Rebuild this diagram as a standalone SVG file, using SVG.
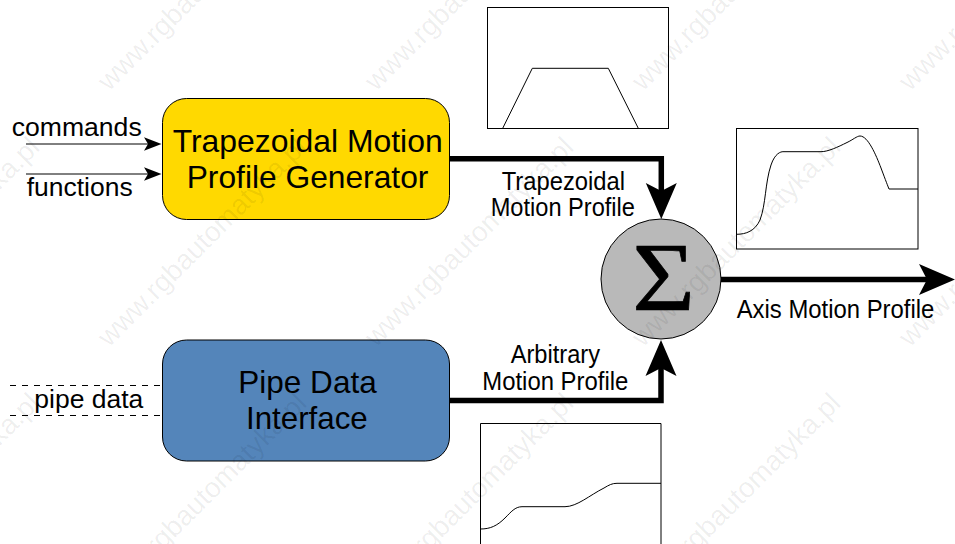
<svg xmlns="http://www.w3.org/2000/svg" width="955" height="544" viewBox="0 0 955 544">
<style>
text{font-family:"Liberation Sans",Arial,sans-serif;fill:#000}
.lbl{font-size:26px}
.big{font-size:31.5px}
.box{stroke:#000;stroke-width:1}
.plot{fill:none;stroke:#000;stroke-width:1}
.thick{fill:none;stroke:#000;stroke-width:5.5}
.thin{fill:none;stroke:#000;stroke-width:1}
.dash{fill:none;stroke:#000;stroke-width:1;stroke-dasharray:6 6}
.wm{font-size:28px;fill:#000;fill-opacity:.07}
</style>
<defs>
<marker id="bigHead" markerUnits="userSpaceOnUse" viewBox="0 -16 36 32" refX="8" refY="0" markerWidth="36" markerHeight="32" orient="auto"><path d="M0,-15.5L36,0L0,15.5L8,0Z" fill="#000"/></marker>
<marker id="thinHead" markerUnits="userSpaceOnUse" viewBox="0 -7 18 14" refX="4" refY="0" markerWidth="18" markerHeight="14" orient="auto"><path d="M0,-6.7L17.5,0L0,6.7L4,0Z" fill="#000"/></marker>
</defs>
<g id="plot-trapezoidal">
<rect class="plot" x="487.5" y="7.5" width="181" height="121" fill="none"/>
<path class="plot" d="M502.7,128.3L532.3,68.3H608.3L638.3,128.3"/>
</g>
<g id="plot-axis">
<rect class="plot" x="736.5" y="128.5" width="181.5" height="120.5"/>
<path class="plot" d="M736.5,234.3C746,234.3 755,231 760,220C766,204 765,183 771,165C775,153 781,151.7 783,151.7H821C828,151.7 838,147 847,142.5C853,139.7 857,136 860,136C868,136 876,155 881,168C884,176 887,184 889,189H918"/>
</g>
<g id="plot-arbitrary">
<path class="plot" d="M480.5,544V423.5H661V544"/>
<path class="plot" d="M480.5,529C490,529 497,526 505,518C511,512 515,506.7 522,506.7H565C577,506.7 590,495 604,488C609,485 612,483.3 617,483.3H661"/>
</g>
<g id="connectors">
<path class="thin" d="M26,144H148" marker-end="url(#thinHead)"/>
<path class="thin" d="M26,174H148" marker-end="url(#thinHead)"/>
<path class="dash" d="M10,385.5H162"/>
<path class="dash" d="M10,415.5H162"/>
<path class="thick" d="M449,158.7H661.3V191" marker-end="url(#bigHead)"/>
<path class="thick" d="M449,400.5H661V368" marker-end="url(#bigHead)"/>
<path class="thick" d="M721,279.5H927" marker-end="url(#bigHead)"/>
</g>
<g id="node-generator">
<rect class="box" x="162.5" y="98.5" width="287" height="121" rx="24" fill="#FFD900"/>
<text class="big" x="172.7" y="152" textLength="270" lengthAdjust="spacingAndGlyphs">Trapezoidal Motion</text>
<text class="big" x="186.7" y="187.7" textLength="241.7" lengthAdjust="spacingAndGlyphs">Profile Generator</text>
</g>
<g id="node-pipe">
<rect class="box" x="162.5" y="340" width="287" height="121" rx="24" fill="#5485BA"/>
<text class="big" x="238.3" y="392.7" textLength="138.4" lengthAdjust="spacingAndGlyphs">Pipe Data</text>
<text class="big" x="246" y="428.7" textLength="121.7" lengthAdjust="spacingAndGlyphs">Interface</text>
</g>
<g id="node-sum">
<circle class="box" cx="661" cy="279" r="60" fill="#B9B9B9"/>
<text transform="translate(663.5,310) scale(1.1,1)" text-anchor="middle" stroke="#000" stroke-width="0.7" style="font-family:'Liberation Serif','Times New Roman',serif;font-size:98px">Σ</text>
</g>
<g id="labels">
<text class="lbl" x="11.7" y="136" textLength="130" lengthAdjust="spacingAndGlyphs">commands</text>
<text class="lbl" x="26.7" y="196" textLength="106" lengthAdjust="spacingAndGlyphs">functions</text>
<text class="lbl" x="34.3" y="408" textLength="109" lengthAdjust="spacingAndGlyphs">pipe data</text>
<text class="lbl" x="501.7" y="190" textLength="123.3" lengthAdjust="spacingAndGlyphs">Trapezoidal</text>
<text class="lbl" x="490.7" y="216" textLength="144.3" lengthAdjust="spacingAndGlyphs">Motion Profile</text>
<text class="lbl" x="510.7" y="362.5" textLength="89.3" lengthAdjust="spacingAndGlyphs">Arbitrary</text>
<text class="lbl" x="482.3" y="389.5" textLength="146" lengthAdjust="spacingAndGlyphs">Motion Profile</text>
<text class="lbl" x="736.7" y="317.5" textLength="197.6" lengthAdjust="spacingAndGlyphs">Axis Motion Profile</text>
</g>
<g id="watermark" aria-hidden="true">
<text class="wm" transform="translate(109,92) rotate(-45)">www.rgbautomatyka.pl</text>
<text class="wm" transform="translate(376,92) rotate(-45)">www.rgbautomatyka.pl</text>
<text class="wm" transform="translate(643,92) rotate(-45)">www.rgbautomatyka.pl</text>
<text class="wm" transform="translate(910,92) rotate(-45)">www.rgbautomatyka.pl</text>
<text class="wm" transform="translate(-158,348) rotate(-45)">www.rgbautomatyka.pl</text>
<text class="wm" transform="translate(109,348) rotate(-45)">www.rgbautomatyka.pl</text>
<text class="wm" transform="translate(376,348) rotate(-45)">www.rgbautomatyka.pl</text>
<text class="wm" transform="translate(643,348) rotate(-45)">www.rgbautomatyka.pl</text>
<text class="wm" transform="translate(910,348) rotate(-45)">www.rgbautomatyka.pl</text>
<text class="wm" transform="translate(-158,604) rotate(-45)">www.rgbautomatyka.pl</text>
<text class="wm" transform="translate(109,604) rotate(-45)">www.rgbautomatyka.pl</text>
<text class="wm" transform="translate(376,604) rotate(-45)">www.rgbautomatyka.pl</text>
<text class="wm" transform="translate(643,604) rotate(-45)">www.rgbautomatyka.pl</text>
</g>
</svg>
